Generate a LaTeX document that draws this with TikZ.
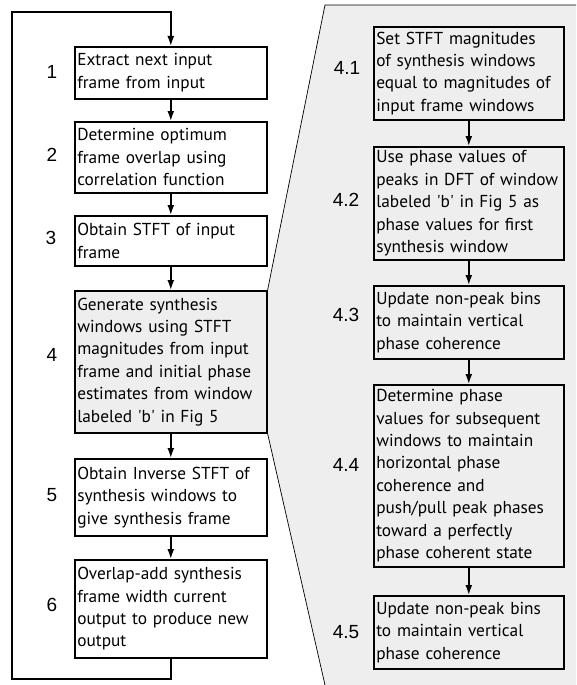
\documentclass[tikz,border=0pt]{standalone}
\usepackage{fontspec}
\setmainfont{PT Sans}
\newfontfamily\numfont{Liberation Sans}
\usetikzlibrary{arrows.meta,backgrounds}
\definecolor{panelgray}{HTML}{EEEEEE}
\newcommand{\q}{\textquotesingle}

\tikzset{
  stage/.style={draw, line width=1.6pt, anchor=north west, align=left,
    inner xsep=2.5pt, inner ysep=0pt, minimum width=#1, text width=#1-5pt,
    font=\fontsize{17.3}{22.4}\selectfont},
  stage/.default=192pt,
  num/.style={font=\numfont\fontsize{19}{22}\selectfont},
  flow/.style={line width=1.6pt, -{Latex[length=10pt,width=7pt]}},
  panel/.style={line width=0.7pt},
}

\begin{document}
\begin{tikzpicture}[x=1pt,y=-1pt]
\useasboundingbox (0,0) rectangle (576,685);

% main loop
\node[stage, minimum height=52] (s1) at (74,46) {Extract next input\\frame from input};
\node[stage, minimum height=71] (s2) at (74,121) {Determine optimum\\frame overlap using\\correlation function};
\node[stage, minimum height=50] (s3) at (74,215) {Obtain STFT of input\\frame};
\node[stage, minimum height=142, fill=panelgray] (s4) at (74,290) {Generate synthesis\\windows using STFT\\magnitudes from input\\frame and initial phase\\estimates from window\\labeled \q b\q{} in Fig 5};
\node[stage, minimum height=77] (s5) at (74,458) {Obtain Inverse STFT of\\synthesis windows to\\give synthesis frame};
\node[stage, minimum height=98] (s6) at (74,559) {Overlap-add synthesis\\frame width current\\output to produce new\\output};

\node[num] (n1) at (52,72) {1};
\node[num] (n2) at (52,155) {2};
\node[num] (n3) at (51,238) {3};
\node[num] (n4) at (52,355) {4};
\node[num] (n5) at (52,495) {5};
\node[num] (n6) at (52,605) {6};

% step 4 in detail
\node[stage=190pt, minimum height=93] (r1) at (373,26) {Set STFT magnitudes\\of synthesis windows\\equal to magnitudes of\\input frame windows};
\node[stage=190pt, minimum height=113] (r2) at (373,146) {Use phase values of\\peaks in DFT of window\\labeled \q b\q{} in Fig 5 as\\phase values for first\\synthesis window};
\node[stage=190pt, minimum height=73] (r3) at (373,285) {Update non-peak bins\\to maintain vertical\\phase coherence};
\node[stage=190pt, minimum height=182] (r4) at (373,384) {Determine phase\\values for subsequent\\windows to maintain\\horizontal phase\\coherence and\\push/pull peak phases\\toward a perfectly\\phase coherent state};
\node[stage=190pt, minimum height=73] (r5) at (373,595) {Update non-peak bins\\to maintain vertical\\phase coherence};

\node[num] (m1) at (347,68) {4.1};
\node[num] (m2) at (346,200) {4.2};
\node[num] (m3) at (346,315) {4.3};
\node[num] (m4) at (346,465) {4.4};
\node[num] (m5) at (346,632) {4.5};

% gray panel behind
\coordinate (pNW) at (325,5);
\coordinate (pNE) at (576,5);
\coordinate (pSE) at (576,685);
\coordinate (pSW) at (325,685);
\begin{scope}[on background layer]
\fill[panelgray] (pNW) -- (pNE) -- (pSE) -- (pSW) -- (s4.south east) -- (s4.north east) -- cycle;
\end{scope}
\draw[panel] (pNE) -- (pNW) -- (s4.north east);
\draw[panel] (s4.south east) -- (pSW);

% arrows
\draw[flow] (s1) -- (s2);
\draw[flow] (s2) -- (s3);
\draw[flow] (s3) -- (s4);
\draw[flow] (s4) -- (s5);
\draw[flow] (s5) -- (s6);
\draw[flow] (r1) -- (r2);
\draw[flow] (r2) -- (r3);
\draw[flow] (r3) -- (r4);
\draw[flow] (r4) -- (r5);

\coordinate (loopSW) at (12,679);
\coordinate (loopNW) at (12,12);
\draw[flow] (s6.south) |- (loopSW) -- (loopNW) -| (s1.north);
\end{tikzpicture}
\end{document}
